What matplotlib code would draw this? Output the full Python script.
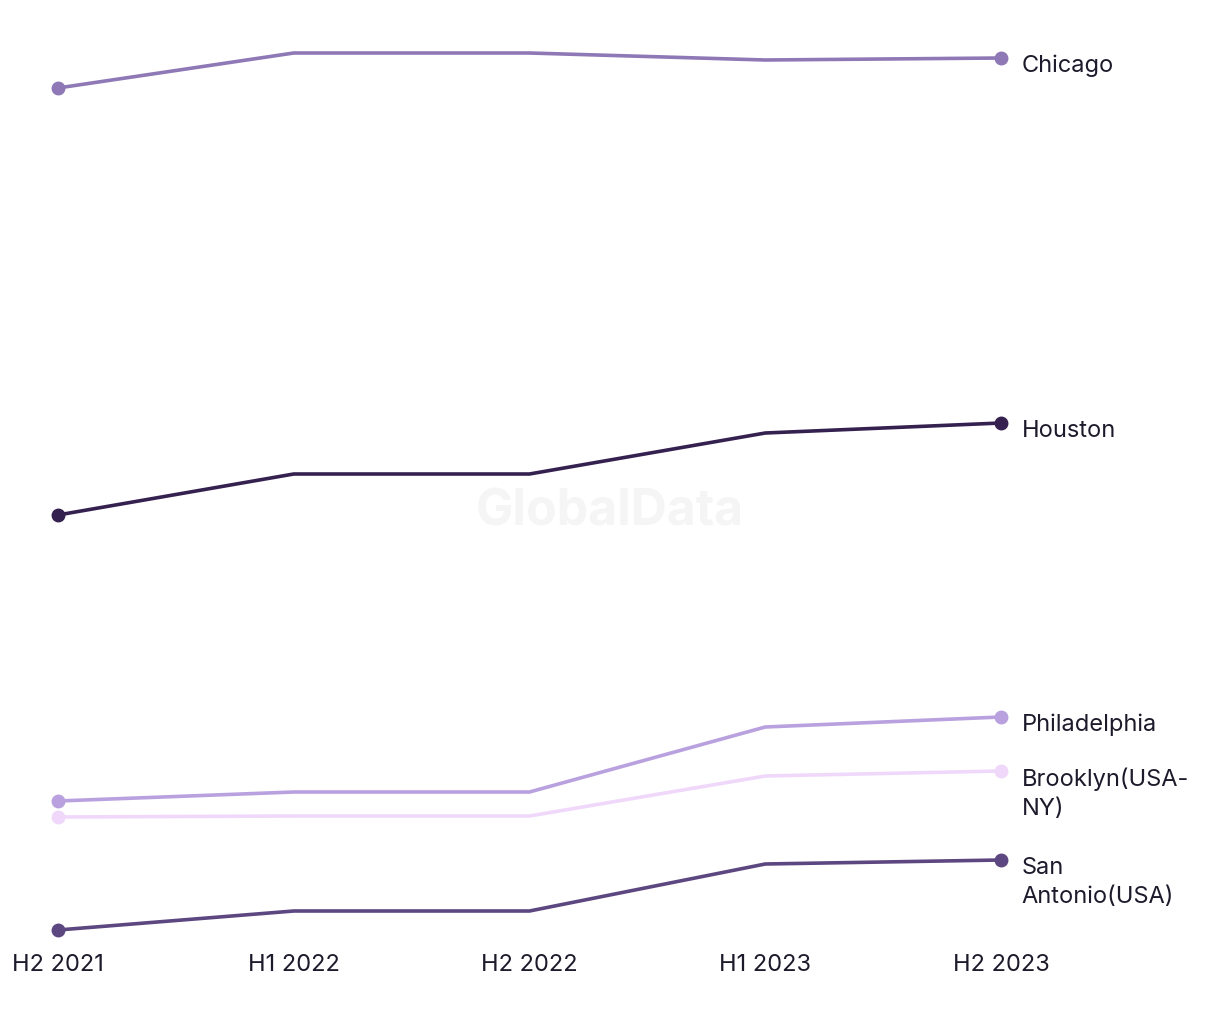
import matplotlib.pyplot as plt

periods = ['H2 2021', 'H1 2022', 'H2 2022', 'H1 2023', 'H2 2023']

cities = ['Chicago', 'Houston', 'Philadelphia', 'Brooklyn(USA-\nNY)', 'San\nAntonio(USA)']
chicago = [86.2, 89.7, 89.7, 89.0, 89.2]
houston = [43.5, 47.6, 47.6, 51.7, 52.7]
philadelphia = [14.9, 15.8, 15.8, 22.3, 23.3]
brooklyn = [13.3, 13.4, 13.4, 17.4, 17.9]
san_antonio = [2.0, 3.9, 3.9, 8.6, 9.0]
series = [chicago, houston, philadelphia, brooklyn, san_antonio]
colors = ['#8e78b6', '#35214f', '#b9a1df', '#f0d8fa', '#5d4781']

plt.rcParams['font.family'] = ['Inter', 'DejaVu Sans']

fig = plt.figure(figsize=(12.2, 10.2), dpi=100)
ax = fig.add_axes([58 / 1220, 69 / 1020, (1001 - 58) / 1220, 910 / 1020])

x = list(range(len(periods)))
for name, vals, c in zip(cities, series, colors):
    ax.plot(x, vals, color=c, lw=2.6, solid_capstyle='round', clip_on=False)
    ax.plot([x[0], x[-1]], [vals[0], vals[-1]], 'o', color=c, ms=9, ls='none', clip_on=False)
    ax.annotate(name, (x[-1], vals[-1]), xytext=(15, 3), textcoords='offset points',
                ha='left', va='top', fontsize=17, color='#1c1a2b', linespacing=1.4)

fig.text(0.5, 0.498, 'GlobalData', ha='center', va='center',
         fontsize=36, fontweight='bold', color='#f5f5f5', zorder=0)

ax.set_xlim(0, 4)
ax.set_ylim(0, 91)
ax.set_xticks(x)
ax.set_xticklabels(periods, fontsize=17, color='#1c1a2b')
ax.tick_params(axis='x', length=0, pad=2)
ax.set_yticks([])
for s in ax.spines.values():
    s.set_visible(False)
ax.patch.set_alpha(0)

fig.savefig('out.png', dpi=100)
